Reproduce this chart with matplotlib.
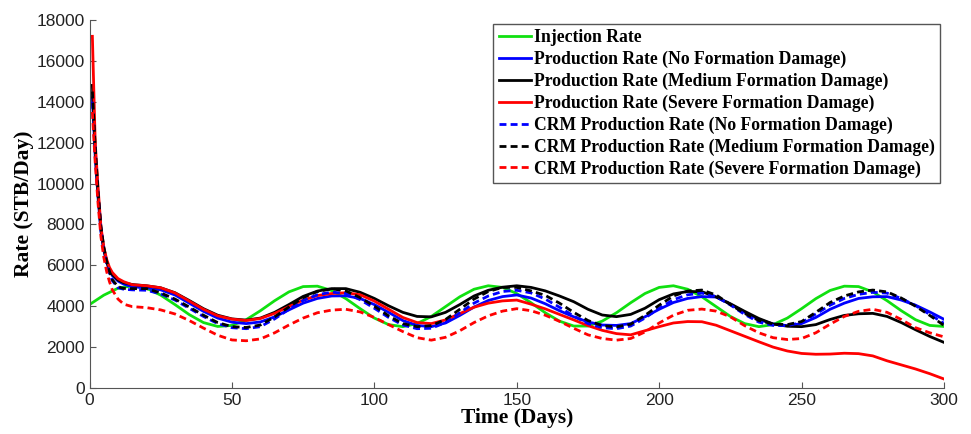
import matplotlib
matplotlib.use("Agg")
import matplotlib.pyplot as plt

# time axis (days)
days_inj = list(range(0, 301, 5))
days = [1, 2, 3, 4, 5, 6, 7, 8, 10, 12] + list(range(15, 301, 5))

injection = [4080, 4540, 4880, 5000, 4880, 4540, 4080, 3590, 3200, 3010,
             3060, 3340, 3780, 4270, 4700, 4960, 4980, 4770, 4370, 3880,
             3420, 3100, 3000, 3150, 3500, 3980, 4460, 4830, 5000, 4920,
             4620, 4170, 3680, 3270, 3030, 3030, 3270, 3680, 4170, 4620,
             4920, 5000, 4830, 4460, 3980, 3500, 3150, 3000, 3100, 3420,
             3880, 4370, 4770, 4980, 4960, 4700, 4270, 3780, 3340, 3060,
             3010]

prod_no = [14200, 11300, 9300, 7650, 6750, 6150, 5750, 5500, 5230, 5080,
           4950, 4900, 4800, 4550, 4150, 3750, 3420, 3220, 3150, 3230,
           3480, 3820, 4150, 4380, 4500, 4510, 4380, 4080, 3700, 3300,
           3060, 3000, 3180, 3550, 3960, 4280, 4470, 4550, 4400, 4120,
           3780, 3480, 3230, 3080, 3060, 3150, 3480, 3850, 4180, 4380,
           4470, 4450, 4100, 3700, 3350, 3130, 3050, 3150, 3450, 3850,
           4150, 4380, 4460, 4470, 4300, 4050, 3720, 3360]

prod_med = [14800, 11600, 9500, 7750, 6800, 6200, 5800, 5550, 5280, 5150,
            5060, 5000, 4900, 4660, 4280, 3880, 3560, 3380, 3320, 3420,
            3700, 4080, 4480, 4740, 4860, 4860, 4680, 4380, 4020, 3700,
            3500, 3480, 3700, 4080, 4500, 4780, 4930, 5000, 4920, 4750,
            4500, 4220, 3850, 3570, 3490, 3600, 3900, 4320, 4600, 4720,
            4710, 4450, 4120, 3750, 3400, 3130, 3020, 3000, 3100, 3350,
            3550, 3630, 3650, 3500, 3200, 2850, 2520, 2230]

prod_sev = [17200, 12000, 9800, 7900, 6900, 6300, 5900, 5650, 5350, 5200,
            5050, 5000, 4900, 4650, 4250, 3850, 3530, 3370, 3300, 3400,
            3650, 3980, 4300, 4520, 4620, 4660, 4560, 4250, 3850, 3450,
            3200, 3150, 3330, 3640, 3950, 4150, 4260, 4300, 4100, 3870,
            3600, 3330, 3050, 2820, 2660, 2600, 2800, 3000, 3180, 3250,
            3240, 3070, 2800, 2530, 2260, 2000, 1810, 1690, 1650, 1660,
            1700, 1680, 1570, 1330, 1130, 930, 700, 440]

crm_no = [14000, 11500, 9400, 7800, 6800, 6100, 5600, 5250, 4900, 4830,
          4800, 4780, 4600, 4300, 3900, 3500, 3150, 2950, 2900, 3000,
          3380, 3850, 4280, 4560, 4690, 4620, 4320, 3900, 3450, 3080,
          2900, 2920, 3200, 3680, 4150, 4500, 4720, 4780, 4650, 4350,
          3950, 3520, 3150, 2950, 2900, 3030, 3420, 3900, 4320, 4560,
          4640, 4470, 4060, 3600, 3220, 3060, 3050, 3200, 3620, 4050,
          4380, 4580, 4680, 4640, 4380, 4030, 3600, 3160]

crm_med = [14500, 11800, 9600, 7900, 6900, 6200, 5700, 5300, 4950, 4870,
           4860, 4860, 4650, 4350, 3960, 3560, 3200, 3000, 2960, 3080,
           3480, 3960, 4420, 4720, 4850, 4750, 4420, 4000, 3530, 3150,
           3000, 3050, 3350, 3850, 4350, 4720, 4920, 4920, 4750, 4530,
           4150, 3700, 3300, 3050, 2990, 3120, 3550, 4050, 4500, 4740,
           4790, 4550, 4080, 3650, 3300, 3130, 3100, 3250, 3700, 4180,
           4500, 4700, 4790, 4700, 4400, 4000, 3550, 3060]

crm_sev = [13500, 11000, 9000, 7400, 6400, 5700, 5200, 4800, 4350, 4100,
           3980, 3930, 3820, 3620, 3300, 2930, 2580, 2350, 2310, 2400,
           2700, 3080, 3420, 3680, 3810, 3850, 3720, 3450, 3100, 2760,
           2460, 2340, 2480, 2800, 3200, 3530, 3760, 3880, 3780, 3560,
           3260, 2920, 2600, 2420, 2340, 2420, 2740, 3180, 3560, 3800,
           3860, 3760, 3480, 3050, 2700, 2460, 2370, 2420, 2700, 3120,
           3500, 3750, 3850, 3700, 3350, 2950, 2700, 2500]

labels = ["Injection Rate",
          "Production Rate (No Formation Damage)",
          "Production Rate (Medium Formation Damage)",
          "Production Rate (Severe Formation Damage)",
          "CRM Production Rate (No Formation Damage)",
          "CRM Production Rate (Medium Formation Damage)",
          "CRM Production Rate (Severe Formation Damage)"]

fig = plt.figure(figsize=(9.71, 4.34), dpi=100)
ax = fig.add_axes([0.0922, 0.106, 0.880, 0.848])

lw = 2.0
dash = (2.5, 1.5)
ax.plot(days_inj, injection, color="#10e010", lw=lw, label=labels[0])
ax.plot(days, prod_no, color="#0000ff", lw=lw, label=labels[1])
ax.plot(days, prod_med, color="black", lw=lw, label=labels[2])
ax.plot(days, prod_sev, color="#ff0000", lw=lw, label=labels[3])
ax.plot(days, crm_no, color="#0000ff", lw=lw, ls="--", dashes=dash, label=labels[4])
ax.plot(days, crm_med, color="black", lw=lw, ls="--", dashes=dash, label=labels[5])
ax.plot(days, crm_sev, color="#ff0000", lw=lw, ls="--", dashes=dash, label=labels[6])

ax.set_xlim(0, 300)
ax.set_ylim(0, 18000)
ax.set_xticks(range(0, 301, 50))
ax.set_yticks(range(0, 18001, 2000))
for s in ["top", "right"]:
    ax.spines[s].set_visible(False)
for s in ["left", "bottom"]:
    ax.spines[s].set_color("#555555")
ax.tick_params(direction="in", length=4, color="#555555", labelsize=12.5,
               labelcolor="#222222")
for lab in ax.get_xticklabels() + ax.get_yticklabels():
    lab.set_family("Liberation Sans")

ax.set_xlabel("Time (Days)", family="Liberation Serif", fontweight="bold",
              fontsize=15.5, labelpad=0)
ax.set_ylabel("Rate (STB/Day)", family="Liberation Serif", fontweight="bold",
              fontsize=15.5, labelpad=2)

leg = ax.legend(loc="upper right", bbox_to_anchor=(940 / 971, 1 - 24 / 434),
                bbox_transform=fig.transFigure, fancybox=False, framealpha=1,
                edgecolor="#555555", handlelength=1.85, handletextpad=0.15,
                labelspacing=0.26, borderpad=0.3, borderaxespad=0,
                prop={"family": "Liberation Serif", "weight": "bold", "size": 12.7})
leg.get_frame().set_linewidth(1.0)

fig.savefig("out.png", dpi=100)
